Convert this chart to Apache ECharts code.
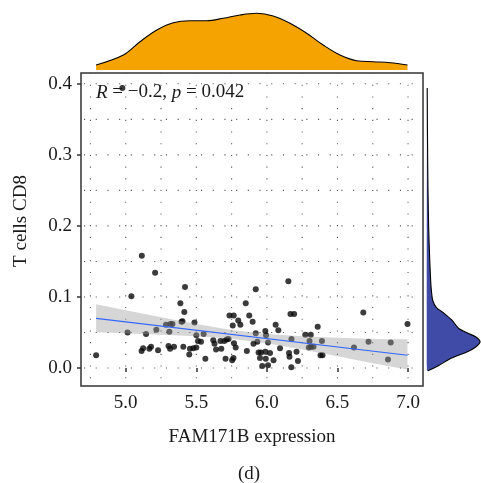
<!DOCTYPE html>
<html><head><meta charset="utf-8">
<script src="https://cdn.jsdelivr.net/npm/echarts@6/dist/echarts.min.js"></script>
<style>html,body{margin:0;padding:0;background:#fff}#c{width:481px;height:483px}</style>
</head><body><div id="c"></div>
<script>
// FAM171B expression (x) and T cells CD8 (y)
const expr = [4.976,4.790,5.114,5.208,5.420,5.040,5.387,5.415,5.013,5.144,5.217,5.285,5.317,5.331,5.395,5.402,5.309,5.487,5.500,5.512,5.533,5.552,5.112,5.123,5.167,5.179,5.229,5.303,5.314,5.342,5.408,5.455,5.479,5.500,5.450,5.564,5.620,5.629,5.640,5.671,5.698,5.715,5.728,5.677,5.735,5.765,5.797,5.758,5.812,5.767,5.779,5.707,5.754,5.763,5.850,5.875,5.899,5.858,5.921,6.152,6.167,6.193,6.062,6.081,5.989,5.921,5.994,6.008,5.932,5.905,6.174,6.272,6.311,6.302,6.312,6.330,6.297,6.093,5.941,5.958,5.989,6.022,6.157,6.160,6.210,5.951,5.992,6.047,6.220,5.967,6.008,6.173,6.360,6.390,6.394,6.617,6.683,6.720,6.877,6.858,6.996,6.380];
const cd8 = [0.394,0.018,0.158,0.134,0.114,0.101,0.091,0.079,0.050,0.048,0.054,0.061,0.062,0.062,0.065,0.066,0.051,0.064,0.046,0.038,0.037,0.048,0.024,0.028,0.027,0.030,0.025,0.031,0.027,0.030,0.030,0.027,0.028,0.029,0.019,0.013,0.039,0.034,0.026,0.038,0.038,0.040,0.041,0.027,0.074,0.074,0.067,0.060,0.061,0.035,0.029,0.013,0.011,0.014,0.091,0.074,0.065,0.024,0.111,0.122,0.076,0.076,0.061,0.053,0.052,0.049,0.046,0.036,0.037,0.034,0.041,0.047,0.047,0.038,0.030,0.030,0.029,0.028,0.022,0.022,0.023,0.021,0.021,0.016,0.023,0.014,0.013,0.011,0.010,0.003,0.004,0.001,0.058,0.038,0.018,0.029,0.078,0.037,0.036,0.012,0.062,0.018];

const xTicks = [5.0,5.5,6.0,6.5,7.0];
const xMinor = [4.75,5.25,5.75,6.25,6.75];
const yTicks = [0.0,0.1,0.2,0.3,0.4];
const yMinor = [0.05,0.15,0.25,0.35];

// fitted line and confidence band
const fitX = [4.79, 6.996];
const fitY = [0.070, 0.018];
const bandX = [4.79,5.0,5.25,5.5,5.75,6.0,6.25,6.5,6.75,6.996];
const bandUpper = [0.0897,0.0812,0.0713,0.0618,0.0536,0.0480,0.0448,0.0426,0.0407,0.0405];
const bandLower = [0.0503,0.0488,0.0469,0.0446,0.0411,0.0348,0.0262,0.0166,0.0067,-0.0020];

// marginal densities (relative heights)
const densTopX = [4.79,4.983,5.101,5.220,5.337,5.455,5.574,5.691,5.809,5.928,6.045,6.164,6.282,6.399,6.518,6.636,6.754,6.873,6.996];
const densTopV = [5,15,28.3,40,47.3,49.3,49.3,51.7,55,56.7,54,46.7,36.7,25,15,9.3,8.3,7.3,5];
const densRightY = [0.394,0.35,0.30,0.25,0.20,0.16,0.13,0.11,0.095,0.085,0.077,0.067,0.056,0.049,0.044,0.037,0.030,0.023,0.014,0.004,-0.004];
const densRightV = [0.2,0.4,0.7,1.1,1.8,2.8,3.8,4.8,6.4,10.5,19,28,35,45.5,54,59,54.5,45,27.5,13.5,1];

const xMin = 4.683, xMax = 7.106, yMin = -0.0253, yMax = 0.4152;
const FONT = 'Liberation Serif';
const TXT = '#1a1a1a';

const chart = echarts.init(document.getElementById('c'), null, {renderer:'canvas'});

const points = expr.map((x,i)=>[x, cd8[i]]);
const fitData = fitX.map((x,i)=>[x, fitY[i]]);

const option = {
  animation: false,
  backgroundColor: '#fff',
  grid: [
    {left:81, top:73, width:342, height:313, show:true, borderColor:'#333', borderWidth:1.5, backgroundColor:'rgba(0,0,0,0)'},
    {left:81, top:10, width:342, height:60, show:false},
    {left:427, top:73, width:60, height:313, show:false}
  ],
  xAxis: [
    {gridIndex:0, type:'value', min:xMin, max:xMax,
     axisLine:{show:false},
     axisTick:{show:true, customValues:xTicks, length:4, lineStyle:{color:'#333', width:1.5}},
     axisLabel:{customValues:xTicks, formatter:v=>v.toFixed(1), margin:8, fontFamily:FONT, fontSize:19, color:TXT},
     splitLine:{show:false}},
    {gridIndex:1, type:'value', min:xMin, max:xMax, show:false},
    {gridIndex:2, type:'value', min:0, max:60, show:false}
  ],
  yAxis: [
    {gridIndex:0, type:'value', min:yMin, max:yMax,
     axisLine:{show:false},
     axisTick:{show:true, customValues:yTicks, length:4, lineStyle:{color:'#333', width:1.5}},
     axisLabel:{customValues:yTicks, formatter:v=>v.toFixed(1), margin:9, fontFamily:FONT, fontSize:19, color:TXT},
     splitLine:{show:false}},
    {gridIndex:1, type:'value', min:0, max:60, show:false},
    {gridIndex:2, type:'value', min:yMin, max:yMax, show:false}
  ],
  series: [
    { // dotted grid
      type:'custom', xAxisIndex:0, yAxisIndex:0, data:[[xMin,yMin]], z:1, silent:true,
      renderItem:(params, api)=>{
        const ch = [];
        const st = {stroke:'#555', lineWidth:1.1, lineDash:[1.1,10.6], fill:null};
        xTicks.concat(xMinor).forEach(v=>{
          const a = api.coord([v,yMin]), b = api.coord([v,yMax]);
          ch.push({type:'line', shape:{x1:a[0],y1:b[1],x2:b[0],y2:a[1]}, style:st});
        });
        yTicks.concat(yMinor).forEach(v=>{
          const a = api.coord([xMin,v]), b = api.coord([xMax,v]);
          ch.push({type:'line', shape:{x1:a[0]+3,y1:a[1],x2:b[0],y2:b[1]}, style:st});
        });
        return {type:'group', children:ch};
      }
    },
    {type:'scatter', xAxisIndex:0, yAxisIndex:0, data:points, symbolSize:6, itemStyle:{color:'#0a0a0a'}, z:2, silent:true},
    { // confidence band
      type:'custom', xAxisIndex:0, yAxisIndex:0, data:[[xMin,yMin]], z:3, silent:true,
      renderItem:(params, api)=>{
        const pts = [];
        bandX.forEach((x,i)=>pts.push(api.coord([x, bandUpper[i]])));
        for (let i=bandX.length-1;i>=0;i--) pts.push(api.coord([bandX[i], bandLower[i]]));
        return {type:'polygon', shape:{points:pts}, style:{fill:'rgba(153,153,153,0.4)', stroke:null}};
      }
    },
    {type:'line', xAxisIndex:0, yAxisIndex:0, data:fitData, symbol:'none', lineStyle:{color:'#3366FF', width:1.2}, z:4, silent:true},
    { // top density
      type:'line', xAxisIndex:1, yAxisIndex:1, data:densTopX.map((x,i)=>[x, densTopV[i]]),
      smooth:0.35, symbol:'none', lineStyle:{color:'#000', width:1.1}, areaStyle:{color:'#f5a300', opacity:1}, silent:true
    },
    { // right density
      type:'custom', xAxisIndex:2, yAxisIndex:2, data:[[0,0]], silent:true,
      renderItem:(params, api)=>{
        const curve = densRightY.map((y,i)=>api.coord([densRightV[i], y]));
        const top = api.coord([0, densRightY[0]]);
        const bot = api.coord([0, densRightY[densRightY.length-1]]);
        const poly = [top].concat(curve).concat([bot]);
        return {type:'group', children:[
          {type:'polygon', shape:{points:poly, smooth:0.25}, style:{fill:'#3f4ba6', stroke:null}},
          {type:'polyline', shape:{points:curve, smooth:0.25}, style:{stroke:'#000', lineWidth:1.1, fill:null}}
        ]};
      }
    }
  ],
  graphic: [
    {type:'text', left:96, top:83, z:10, style:{text:'{i|R} = −0.2, {i|p} = 0.042', font:'19px "Liberation Serif"', fill:TXT,
      rich:{i:{fontStyle:'italic', fontFamily:FONT, fontSize:19, fill:TXT}}}},
    {type:'text', x:252, y:437, z:10, style:{text:'FAM171B expression', font:'19px "Liberation Serif"', fill:TXT, textAlign:'center', textVerticalAlign:'middle'}},
    {type:'text', x:21, y:221, rotation:Math.PI/2, z:10, style:{text:'T cells CD8', font:'19px "Liberation Serif"', fill:TXT, textAlign:'center', textVerticalAlign:'middle'}},
    {type:'text', x:249, y:474, z:10, style:{text:'(d)', font:'19px "Liberation Serif"', fill:TXT, textAlign:'center', textVerticalAlign:'middle'}}
  ]
};
chart.setOption(option);
</script>
</body></html>
